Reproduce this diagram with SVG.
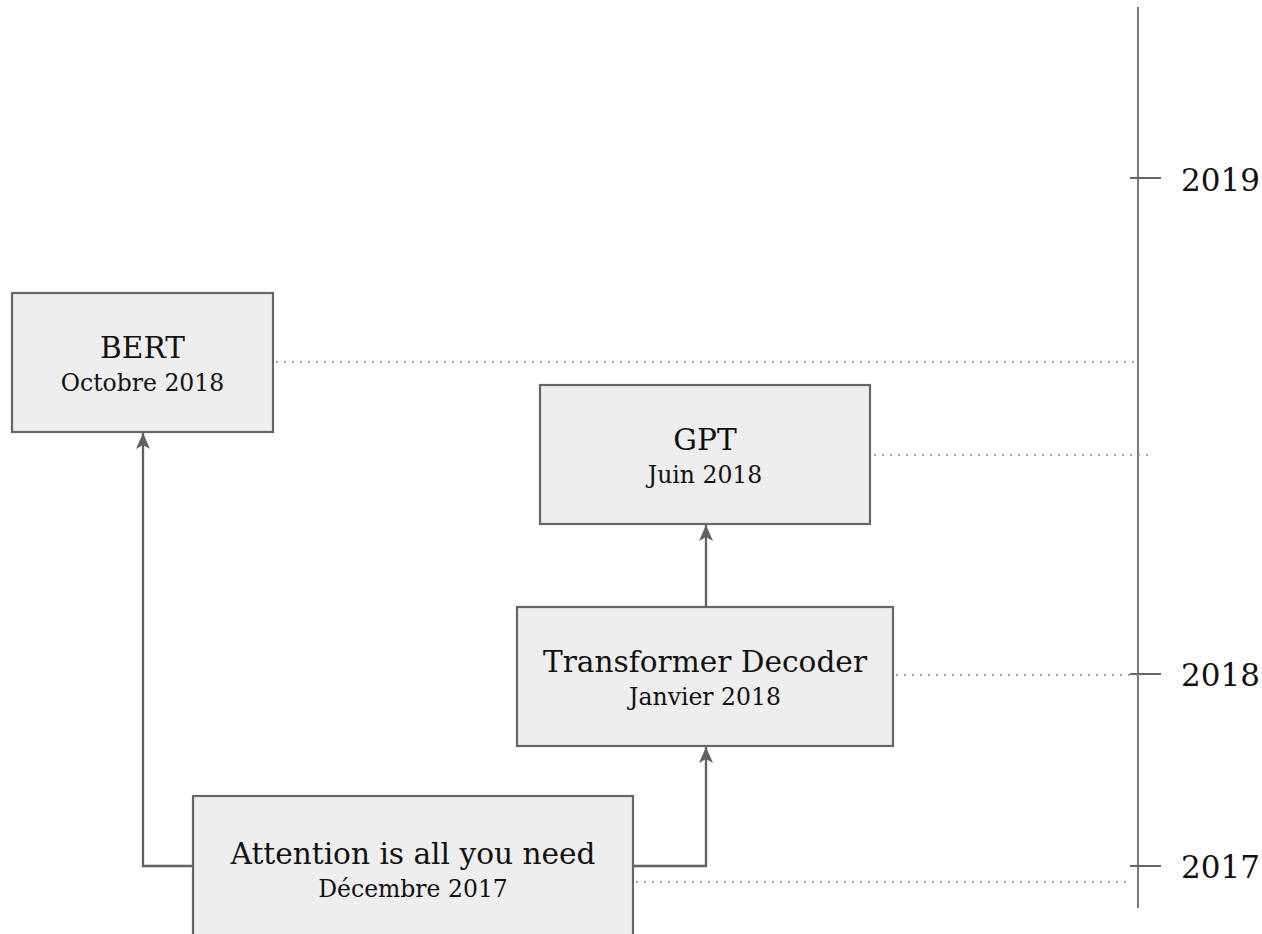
<svg xmlns="http://www.w3.org/2000/svg" width="1262" height="934" viewBox="0 0 1262 934">
  <style>
    .box { fill: #eeeeee; stroke: #666666; stroke-width: 2.2; }
    .title { font-family: "DejaVu Serif", "Liberation Serif", serif; font-size: 29.6px; fill: #111111; text-anchor: middle; }
    .sub { font-family: "DejaVu Serif", "Liberation Serif", serif; font-size: 23.5px; fill: #111111; text-anchor: middle; }
    .year { font-family: "DejaVu Serif", "Liberation Serif", serif; font-size: 31px; fill: #111111; }
    .edge { fill: none; stroke: #616161; stroke-width: 2.3; }
    .guide { fill: none; stroke: #9a9a9a; stroke-width: 1.8; stroke-dasharray: 1.8 6.2; }
    .axis { fill: none; stroke: #7a7a7a; stroke-width: 2; }
    .tick { fill: none; stroke: #666666; stroke-width: 2; }
  </style>
  <defs>
    <marker id="arrow" markerUnits="userSpaceOnUse" markerWidth="16" markerHeight="14" viewBox="0 0 16 14" refX="16" refY="7" orient="auto">
      <path d="M0,0 L16,7 L0,14 L4,7 Z" fill="#616161"/>
    </marker>
  </defs>

  <!-- timeline axis with year ticks -->
  <g id="timeline">
    <line class="axis" x1="1138" y1="7" x2="1138" y2="908"/>
    <line class="tick" x1="1130" y1="178" x2="1161" y2="178"/>
    <line class="tick" x1="1130" y1="674" x2="1161" y2="674"/>
    <line class="tick" x1="1130" y1="866" x2="1161" y2="866"/>
    <text class="year" x="1181" y="191">2019</text>
    <text class="year" x="1181" y="686">2018</text>
    <text class="year" x="1181" y="878">2017</text>
  </g>

  <!-- dotted date guides from each paper to the axis -->
  <g id="guides">
    <line class="guide" x1="276" y1="362" x2="1138" y2="362"/>
    <line class="guide" x1="874" y1="455" x2="1152" y2="455"/>
    <line class="guide" x1="896" y1="675" x2="1140" y2="675"/>
    <line class="guide" x1="636" y1="882" x2="1132" y2="882"/>
  </g>

  <!-- lineage connectors -->
  <g id="connectors">
    <path class="edge" d="M193,866 H143 V433" marker-end="url(#arrow)"/>
    <path class="edge" d="M633,866 H706 V747" marker-end="url(#arrow)"/>
    <path class="edge" d="M706,607 V525" marker-end="url(#arrow)"/>
  </g>

  <g id="bert">
    <rect class="box" x="12" y="293" width="261" height="139"/>
    <text class="title" x="142.5" y="358">BERT</text>
    <text class="sub" x="142.5" y="391">Octobre 2018</text>
  </g>

  <g id="gpt">
    <rect class="box" x="540" y="385" width="330" height="139"/>
    <text class="title" x="705" y="450">GPT</text>
    <text class="sub" x="705" y="483">Juin 2018</text>
  </g>

  <g id="transformer-decoder">
    <rect class="box" x="517" y="607" width="376" height="139"/>
    <text class="title" x="705" y="672">Transformer Decoder</text>
    <text class="sub" x="705" y="705">Janvier 2018</text>
  </g>

  <g id="attention">
    <rect class="box" x="193" y="796" width="440" height="150"/>
    <text class="title" x="413" y="864">Attention is all you need</text>
    <text class="sub" x="413" y="897">Décembre 2017</text>
  </g>
</svg>
